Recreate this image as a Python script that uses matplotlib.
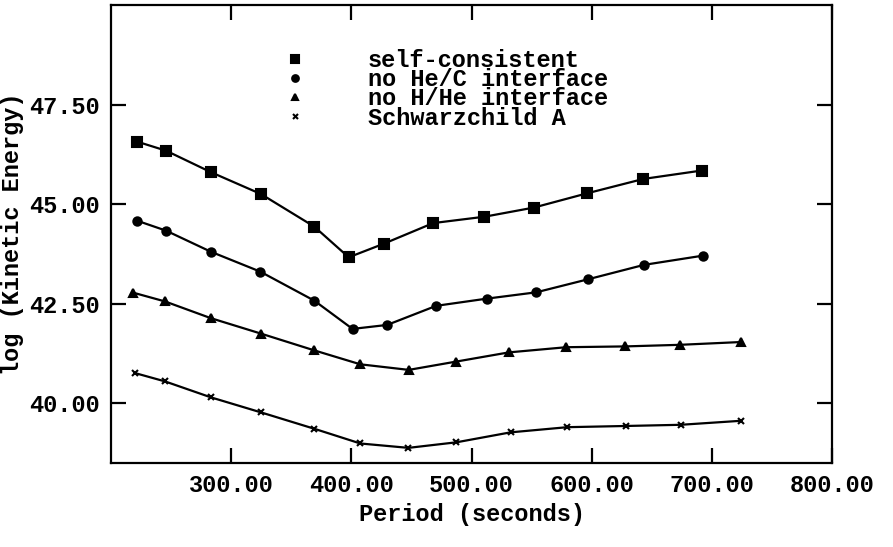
"""Kinetic energy versus period for four stellar models."""

import matplotlib.pyplot as plt
from matplotlib.lines import Line2D


# periods (s) and log kinetic energy for each model
SELF_PERIOD = [221.4, 245.8, 283.1, 324.8, 369.2, 397.8, 426.9, 468.1, 510.8, 551.9, 596.4, 643.1, 691.4]
SELF_LOGE = [46.58, 46.35, 45.81, 45.26, 44.44, 43.67, 44.01, 44.53, 44.69, 44.92, 45.28, 45.64, 45.85]

HEC_PERIOD = [221.7, 245.8, 283.1, 324.2, 369.2, 401.0, 429.8, 470.6, 512.5, 553.9, 597.3, 643.6, 692.3]
HEC_LOGE = [44.59, 44.34, 43.81, 43.31, 42.58, 41.87, 41.97, 42.45, 42.63, 42.79, 43.12, 43.48, 43.71]

HHE_PERIOD = [218.6, 245.0, 283.1, 325.0, 369.2, 407.5, 447.8, 487.5, 531.1, 578.9, 627.8, 673.3, 724.0]
HHE_LOGE = [42.78, 42.56, 42.14, 41.75, 41.33, 40.98, 40.84, 41.05, 41.28, 41.41, 41.43, 41.47, 41.54]

SCHW_PERIOD = [220.0, 245.0, 283.1, 325.0, 369.2, 407.5, 447.5, 487.5, 532.5, 579.8, 628.3, 674.2, 724.0]
SCHW_LOGE = [40.76, 40.55, 40.15, 39.77, 39.36, 38.99, 38.88, 39.02, 39.27, 39.40, 39.43, 39.46, 39.56]

LABELS = ["self-consistent", "no He/C interface", "no H/He interface", "Schwarzchild A"]
X_TICKS = [300, 400, 500, 600, 700, 800]
Y_TICKS = [40.0, 42.5, 45.0, 47.5]

FONT = {"family": "Liberation Mono", "weight": "bold", "size": 17}


def main() -> None:
    plt.rcParams["font.family"] = "Liberation Mono"
    plt.rcParams["font.weight"] = "bold"

    fig = plt.figure(figsize=(8.93, 5.47), dpi=100)
    ax = fig.add_axes([0.1243, 0.1536, 0.8074, 0.8364])

    series = [
        (SELF_PERIOD, SELF_LOGE, "s", 6.5),
        (HEC_PERIOD, HEC_LOGE, "o", 6.0),
        (HHE_PERIOD, HHE_LOGE, "^", 6.0),
        (SCHW_PERIOD, SCHW_LOGE, "x", 4.5),
    ]
    handles = []
    for (period, loge, marker, size), label in zip(series, LABELS):
        ax.plot(period, loge, color="black", linewidth=1.6, marker=marker,
                markersize=size, markeredgewidth=1.5, markerfacecolor="black")
        handles.append(Line2D([], [], color="black", linestyle="none", marker=marker,
                              markersize=size * 0.8, markeredgewidth=1.5, label=label))

    ax.set_xlim(200, 800)
    ax.set_ylim(38.5, 50.0)
    ax.set_xticks(X_TICKS)
    ax.set_xticklabels([f"{t:.2f}" for t in X_TICKS], fontdict=FONT)
    ax.set_yticks(Y_TICKS)
    ax.set_yticklabels([f"{t:.2f}" for t in Y_TICKS], fontdict=FONT)
    ax.tick_params(direction="in", length=11, width=1.6, top=True, right=True, pad=8)
    for spine in ax.spines.values():
        spine.set_linewidth(1.6)

    ax.set_xlabel("Period (seconds)", fontdict=FONT, labelpad=4)
    ax.set_ylabel("log (Kinetic Energy)", fontdict=FONT, labelpad=4)

    # tight rows like the original; the entries sit close together
    ax.legend(handles=handles, loc="upper left", bbox_to_anchor=(0.222, 0.931),
              frameon=False, prop={"family": "Liberation Mono", "weight": "bold", "size": 17},
              handlelength=1.0, handletextpad=2.6, labelspacing=-0.16, borderpad=0)

    fig.savefig("out.png", dpi=100)
    plt.close(fig)


if __name__ == "__main__":
    main()
